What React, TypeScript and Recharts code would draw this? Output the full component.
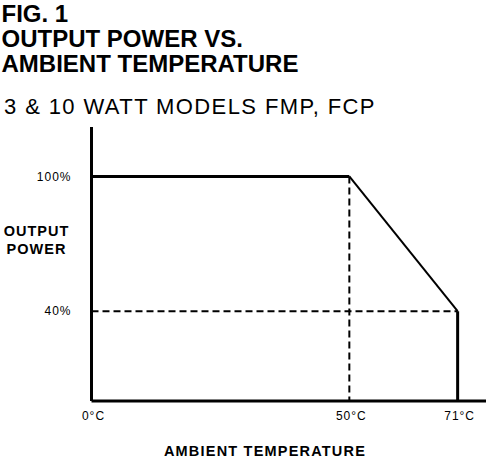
import React from "react";
import { LineChart, Line, XAxis, YAxis } from "recharts";

// ---- data ----
const titleLines = ["FIG. 1", "OUTPUT POWER VS.", "AMBIENT TEMPERATURE"];
const subtitle = "3 & 10 WATT MODELS FMP, FCP";
const yAxisTitle = ["OUTPUT", "POWER"];
const xAxisTitle = "AMBIENT TEMPERATURE";

const tempTicks = [0, 50, 71]; // °C
const powerTicks = [40, 100]; // %
const curveTemp = [0, 50, 71];
const curvePower = [100, 100, 40];

const tempDomain = [0, 76.5];
const powerDomain = [0, 122];

// series built from the arrays above
const flatPart = [
  { x: curveTemp[0], y: curvePower[0] },
  { x: curveTemp[1], y: curvePower[1] },
];
const derating = [
  { x: curveTemp[1], y: curvePower[1] },
  { x: curveTemp[2], y: curvePower[2] },
];
const endDrop = [
  { x: curveTemp[2], y: curvePower[2] },
  { x: curveTemp[2], y: 0 },
];
const guideH = [
  { x: curveTemp[0], y: curvePower[2] },
  { x: curveTemp[2], y: curvePower[2] },
];
const guideV = [
  { x: curveTemp[1], y: curvePower[1] },
  { x: curveTemp[1], y: 0 },
];

const FONT = "'Liberation Sans', Arial, Helvetica, sans-serif";

export default function App() {
  return (
    <div
      style={{
        position: "absolute",
        left: 0,
        top: 0,
        width: 486,
        height: 467,
        background: "#fff",
        overflow: "hidden",
      }}
    >
      <LineChart
        width={486}
        height={467}
        margin={{ top: 127, right: 0, bottom: 0, left: 0 }}
      >
        <XAxis
          type="number"
          dataKey="x"
          domain={tempDomain}
          ticks={tempTicks}
          tickFormatter={(v) => `${v}°C`}
          allowDataOverflow
          height={66}
          tickLine={false}
          tickSize={0}
          tickMargin={10.5}
          axisLine={{ stroke: "#000", strokeWidth: 3 }}
          tick={{ fill: "#000", fontSize: 12, fontFamily: FONT, letterSpacing: 1, dx: 2 }}
        />
        <YAxis
          type="number"
          dataKey="y"
          domain={powerDomain}
          ticks={powerTicks}
          tickFormatter={(v) => `${v}%`}
          allowDataOverflow
          width={91.5}
          tickLine={false}
          tickSize={0}
          tickMargin={20}
          axisLine={{ stroke: "#000", strokeWidth: 3 }}
          tick={{ fill: "#000", fontSize: 12, fontFamily: FONT, letterSpacing: 1 }}
        />
        <Line
          data={guideH}
          dataKey="y"
          stroke="#000"
          strokeWidth={2}
          strokeDasharray="7 4"
          dot={false}
          isAnimationActive={false}
        />
        <Line
          data={guideV}
          dataKey="y"
          stroke="#000"
          strokeWidth={2}
          strokeDasharray="7 4"
          dot={false}
          isAnimationActive={false}
        />
        <Line
          data={flatPart}
          dataKey="y"
          stroke="#000"
          strokeWidth={3}
          dot={false}
          isAnimationActive={false}
        />
        <Line
          data={derating}
          dataKey="y"
          stroke="#000"
          strokeWidth={2}
          dot={false}
          isAnimationActive={false}
        />
        <Line
          data={endDrop}
          dataKey="y"
          stroke="#000"
          strokeWidth={3}
          dot={false}
          isAnimationActive={false}
        />
      </LineChart>
      <svg
        width={486}
        height={467}
        style={{ position: "absolute", left: 0, top: 0, pointerEvents: "none" }}
      >
        {titleLines.map((t, i) => (
          <text
            key={t}
            x={1.5}
            y={21.5 + i * 25}
            fontFamily={FONT}
            fontWeight="bold"
            fontSize={24}
            fill="#000"
          >
            {t}
          </text>
        ))}
        <text x={4} y={113.5} fontFamily={FONT} fontSize={22} letterSpacing={1.4} fill="#000">
          {subtitle}
        </text>
        {yAxisTitle.map((t, i) => (
          <text
            key={t}
            x={36.5}
            y={236 + i * 18}
            textAnchor="middle"
            fontFamily={FONT}
            fontWeight="bold"
            fontSize={14.5}
            letterSpacing={1}
            fill="#000"
          >
            {t}
          </text>
        ))}
        <text
          x={265}
          y={456}
          textAnchor="middle"
          fontFamily={FONT}
          fontWeight="bold"
          fontSize={14.5}
          letterSpacing={1.2}
          fill="#000"
        >
          {xAxisTitle}
        </text>
      </svg>
    </div>
  );
}
